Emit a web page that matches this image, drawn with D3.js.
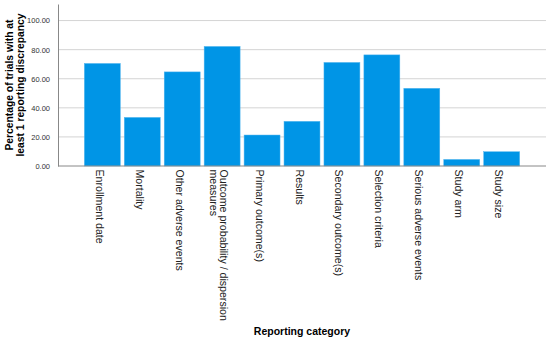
<!DOCTYPE html>
<html>
<head>
<meta charset="utf-8">
<script src="https://cdn.jsdelivr.net/npm/d3@7"></script>
<style>
  body { margin: 0; background: #fff; }
  svg { font-family: "Liberation Sans", Arial, sans-serif; }
</style>
</head>
<body>
<svg id="chart" width="550" height="341"></svg>
<script>
const categories = [
  ["Enrollment date"],
  ["Mortality"],
  ["Other adverse events"],
  ["Outcome probability / dispersion", "measures"],
  ["Primary outcome(s)"],
  ["Results"],
  ["Secondary outcome(s)"],
  ["Selection criteria"],
  ["Serious adverse events"],
  ["Study arm"],
  ["Study size"]
];
const values = [70.5, 33.4, 64.7, 82.2, 21.3, 30.7, 71.2, 76.4, 53.4, 4.5, 9.8];
const yTicks = [0, 20, 40, 60, 80, 100];

const svg = d3.select("#chart");
const margin = {top: 4, left: 58, right: 4, bottom: 175};
const width = +svg.attr("width");
const height = +svg.attr("height");
const plotBottom = height - margin.bottom; // 166

const keys = categories.map(d => d.join(" "));
const data = keys.map((k, i) => ({key: k, lines: categories[i], value: values[i]}));

const x = d3.scaleBand()
    .domain(keys)
    .range([margin.left, width - margin.right])
    .paddingInner(0.1)
    .paddingOuter(0.66);

const y = d3.scaleLinear()
    .domain([0, 111.4])
    .range([plotBottom, margin.top]);

// gridlines
svg.append("g")
    .selectAll("line")
    .data(yTicks.filter(d => d > 0))
    .join("line")
    .attr("x1", margin.left)
    .attr("x2", width - margin.right)
    .attr("y1", d => y(d))
    .attr("y2", d => y(d))
    .attr("stroke", "#d4d4d4")
    .attr("stroke-width", 1);

// bars
svg.append("g")
    .selectAll("rect")
    .data(data)
    .join("rect")
    .attr("x", d => x(d.key))
    .attr("y", d => y(d.value))
    .attr("width", x.bandwidth())
    .attr("height", d => y(0) - y(d.value))
    .attr("fill", "#0095e6")
    .attr("stroke", "#4fb4ee")
    .attr("stroke-width", 0.5);

// y axis
const yAxis = svg.append("g")
    .attr("transform", `translate(${margin.left},0)`)
    .call(d3.axisLeft(y).tickValues(yTicks).tickFormat(d3.format(".2f")).tickSize(0).tickPadding(8));
yAxis.select(".domain").attr("stroke", "#888");
yAxis.selectAll("text")
    .style("font-size", "7.5px")
    .attr("fill", "#333");

// x axis baseline
svg.append("line")
    .attr("x1", margin.left)
    .attr("x2", width - margin.right)
    .attr("y1", y(0))
    .attr("y2", y(0))
    .attr("stroke", "#888");

// x labels, rotated to read downward
const labels = svg.append("g")
    .selectAll("text")
    .data(data)
    .join("text")
    .attr("transform", d => {
        const cx = x(d.key) + x.bandwidth() / 2 + (d.lines.length > 1 ? -2 : -6.5);
        return `translate(${cx},${plotBottom + 3.5}) rotate(90)`;
    })
    .attr("text-anchor", "start")
    .style("font-size", "10.6px")
    .attr("fill", "#222");

labels.selectAll("tspan")
    .data(d => d.lines)
    .join("tspan")
    .attr("x", 0)
    .attr("dy", (d, i) => i === 0 ? "0em" : "0.95em")
    .text(d => d);

// axis titles
svg.append("text")
    .attr("x", (margin.left + width - margin.right) / 2)
    .attr("y", 335)
    .attr("text-anchor", "middle")
    .style("font-size", "10.5px")
    .style("font-weight", "bold")
    .text("Reporting category");

const yTitle = svg.append("text")
    .attr("transform", `translate(13,${(margin.top + plotBottom) / 2}) rotate(-90)`)
    .attr("text-anchor", "middle")
    .style("font-size", "10.3px")
    .style("font-weight", "bold");
yTitle.append("tspan").attr("x", 0).attr("dy", 0).text("Percentage of trials with at");
yTitle.append("tspan").attr("x", 0).attr("dy", "1.05em").text("least 1 reporting discrepancy");
</script>
</body>
</html>
